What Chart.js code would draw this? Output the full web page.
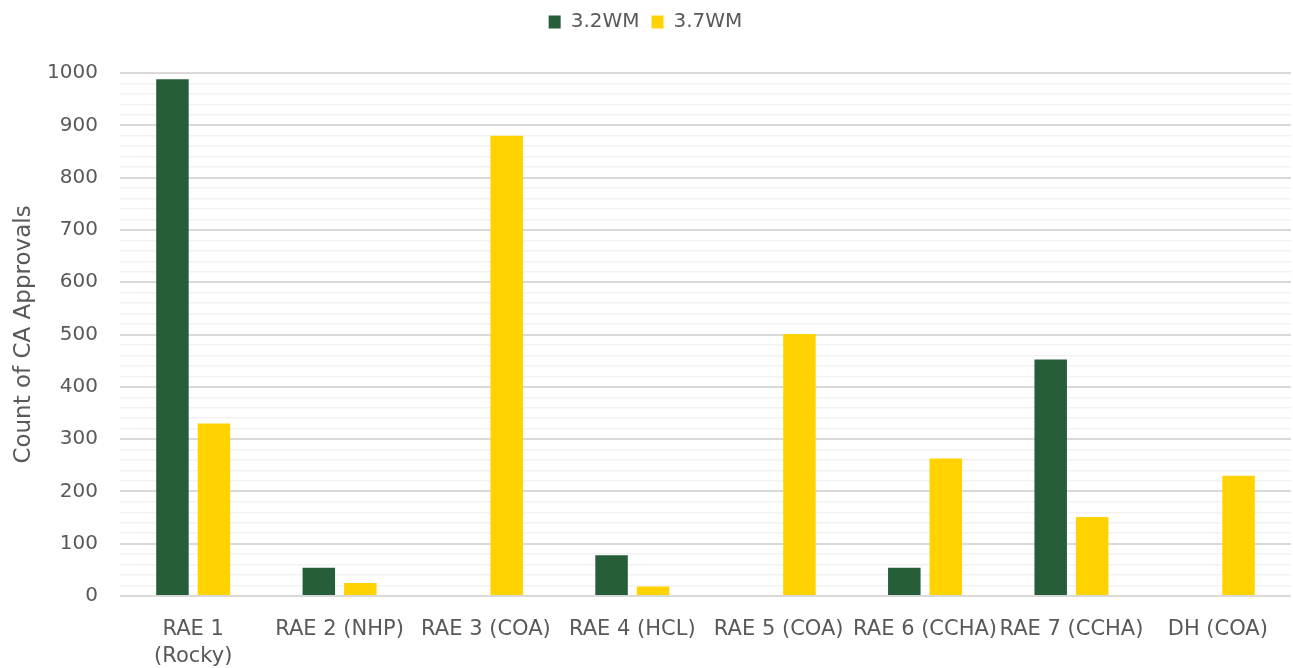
<!DOCTYPE html>
<html>
<head>
<meta charset="utf-8">
<script src="https://cdn.jsdelivr.net/npm/chart.js@4/dist/chart.umd.min.js"></script>
<style>
  html, body { margin: 0; padding: 0; background: #ffffff; }
  #wrap { width: 1293px; height: 668px; }
</style>
</head>
<body>
<div id="wrap"><canvas id="c" width="1293" height="668"></canvas></div>
<script>
// Regions and approval counts per work-model version
const categories = [
  ['RAE 1', '(Rocky)'], 'RAE 2 (NHP)', 'RAE 3 (COA)', 'RAE 4 (HCL)',
  'RAE 5 (COA)', 'RAE 6 (CCHA)', 'RAE 7 (CCHA)', 'DH (COA)'
];
const wm32 = [988, 54, 0, 78, 0, 54, 452, 0];
const wm37 = [330, 25, 880, 18, 501, 263, 151, 230];
const yTicks = [0, 100, 200, 300, 400, 500, 600, 700, 800, 900, 1000];

const textGrey = '#595959';
const fontFamily = '"DejaVu Sans", Verdana, sans-serif';

// Adds extra room between the legend and the plot area
const legendGap = {
  id: 'legendGap',
  beforeInit(chart) {
    const fit = chart.legend.fit;
    chart.legend.fit = function () {
      fit.call(this);
      this.height += 31;
    };
  }
};

new Chart(document.getElementById('c'), {
  type: 'bar',
  data: {
    labels: categories,
    datasets: [
      { label: '3.2WM', data: wm32, backgroundColor: '#255E38',
        categoryPercentage: 0.567, barPercentage: 0.783 },
      { label: '3.7WM', data: wm37, backgroundColor: '#FFD200',
        categoryPercentage: 0.567, barPercentage: 0.783 }
    ]
  },
  plugins: [legendGap],
  options: {
    responsive: false,
    animation: false,
    layout: { padding: { left: 0, right: 2, top: 0, bottom: 0 } },
    plugins: {
      legend: {
        position: 'top',
        labels: {
          color: textGrey,
          font: { family: fontFamily, size: 20 },
          boxWidth: 12, boxHeight: 13, padding: 12
        }
      },
      tooltip: { enabled: false }
    },
    scales: {
      x: {
        grid: { display: false },
        border: { display: false },
        afterFit: (scale) => { scale.height = 72; },
        ticks: {
          color: textGrey,
          font: { family: fontFamily, size: 21, lineHeight: 1.3 },
          maxRotation: 0, autoSkip: false, padding: 12
        }
      },
      y: {
        min: 0, max: 1000,
        border: { display: false },
        afterFit: (scale) => { scale.width = 120; },
        title: {
          display: true, text: 'Count of CA Approvals', color: textGrey,
          font: { family: fontFamily, size: 23 }, padding: { top: 10, bottom: 0 }
        },
        ticks: {
          stepSize: 20, autoSkip: false, color: textGrey,
          font: { family: fontFamily, size: 20 }, padding: 22,
          callback: (v) => yTicks.includes(v) ? String(v) : ''
        },
        grid: {
          drawTicks: false,
          color: (ctx) => (ctx.tick && ctx.tick.value % 100 === 0) ? '#d9d9d9' : '#f2f2f2',
          lineWidth: (ctx) => (ctx.tick && ctx.tick.value % 100 === 0) ? 2 : 1.5
        }
      }
    }
  }
});
</script>
</body>
</html>
